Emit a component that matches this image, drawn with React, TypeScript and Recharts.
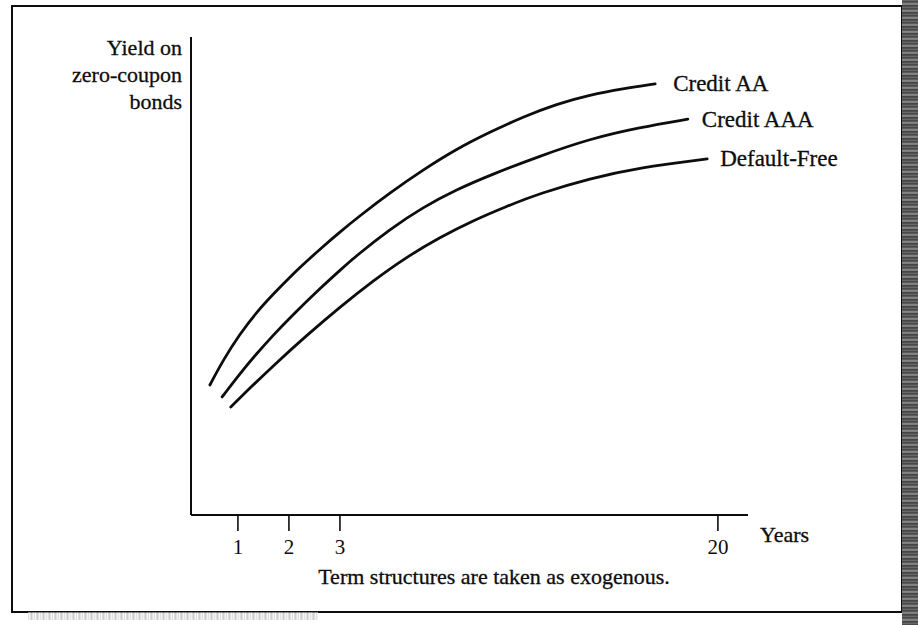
import { LineChart, Line, XAxis, YAxis } from 'recharts';

// Schematic maturity axis: 1, 2, 3 years evenly spaced, then a jump to 20.
const TICK_POS = [1, 2, 3, 10.41];
const TICK_LABELS = ['1', '2', '3', '20'];

const AA_POS = [0.45, 0.71, 1.04, 1.37, 1.69, 2.02, 2.35, 2.67, 3.0, 3.33, 3.98, 4.63, 5.29, 5.94, 6.59, 7.25, 7.9, 8.55, 9.18];
const AA_YIELD = [2.72, 3.24, 3.79, 4.25, 4.62, 4.98, 5.31, 5.62, 5.92, 6.21, 6.74, 7.22, 7.66, 8.01, 8.33, 8.6, 8.79, 8.92, 9.02];

const AAA_POS = [0.69, 1.04, 1.37, 1.69, 2.02, 2.67, 3.0, 3.33, 3.98, 4.63, 5.29, 5.94, 6.92, 7.9, 8.88, 9.82];
const AAA_YIELD = [2.47, 2.96, 3.38, 3.76, 4.13, 4.8, 5.12, 5.43, 5.98, 6.44, 6.81, 7.11, 7.51, 7.87, 8.11, 8.28];

const DF_POS = [0.86, 1.24, 1.69, 2.35, 3.0, 3.65, 4.31, 4.96, 5.61, 6.27, 6.92, 7.9, 8.88, 10.2];
const DF_YIELD = [2.26, 2.66, 3.12, 3.76, 4.35, 4.9, 5.4, 5.81, 6.16, 6.46, 6.73, 7.04, 7.27, 7.45];

const SERIES_NAMES = ['Credit AA', 'Credit AAA', 'Default-Free'];

const INK = '#0d0d0d';
const FONT = '"Liberation Serif", "Times New Roman", serif';

const zip = (xs: number[], ys: number[]) => xs.map((pos, i) => ({ pos, yield: ys[i] }));

const series = [
  { name: SERIES_NAMES[0], data: zip(AA_POS, AA_YIELD), labelDx: 18 },
  { name: SERIES_NAMES[1], data: zip(AAA_POS, AAA_YIELD), labelDx: 14 },
  { name: SERIES_NAMES[2], data: zip(DF_POS, DF_YIELD), labelDx: 13 },
];

function endLabel(name: string, count: number, dx: number) {
  return (props: any) => {
    if (props.index !== count - 1) return null;
    return (
      <text
        key={name}
        x={props.x + dx}
        y={props.y}
        dominantBaseline="central"
        fontSize={23}
        fontFamily={FONT}
        fill={INK}
        stroke={INK}
        strokeWidth={0.3}
      >
        {name}
      </text>
    );
  };
}

const textStyle = {
  fontFamily: FONT,
  fontSize: 22,
  color: INK,
  WebkitTextStroke: '0.3px #0d0d0d',
};

export default function App() {
  return (
    <div style={{ position: 'absolute', left: 0, top: 0, width: 918, height: 625, background: '#fff', overflow: 'hidden' }}>
      {/* page frame */}
      <div style={{ position: 'absolute', left: 11, top: 5, width: 888, height: 604, border: `2px solid ${INK}` }} />
      {/* scanned page edge */}
      <div
        style={{
          position: 'absolute',
          left: 902,
          top: 0,
          width: 16,
          height: 625,
          background:
            'repeating-linear-gradient(0deg, #3a3a3a 0px, #777 2px, #2a2a2a 3px, #999 5px, #444 7px), #555',
        }}
      />
      <div
        style={{
          position: 'absolute',
          left: 28,
          top: 612,
          width: 290,
          height: 8,
          background: 'repeating-linear-gradient(90deg, #bbb 0px, #fff 2px, #999 3px, #fff 6px)',
          opacity: 0.6,
        }}
      />

      <LineChart
        width={918}
        height={625}
        margin={{ top: 37, right: 170, bottom: 60, left: 141 }}
        style={{ position: 'absolute', left: 0, top: 0 }}
      >
        <XAxis
          type="number"
          dataKey="pos"
          domain={[0.08, 11.0]}
          ticks={TICK_POS}
          allowDataOverflow
          height={50}
          tickSize={16}
          tickMargin={8}
          tickFormatter={(v: number) => TICK_LABELS[TICK_POS.indexOf(v)] ?? ''}
          axisLine={{ stroke: INK, strokeWidth: 2 }}
          tickLine={{ stroke: INK, strokeWidth: 1.6 }}
          tick={{ fill: INK, fontSize: 21, fontFamily: FONT }}
        />
        <YAxis
          type="number"
          dataKey="yield"
          domain={[0, 10]}
          width={50}
          tick={false}
          tickLine={false}
          axisLine={{ stroke: INK, strokeWidth: 2 }}
        />
        {series.map((s) => (
          <Line
            key={s.name}
            data={s.data}
            dataKey="yield"
            name={s.name}
            type="basis"
            stroke={INK}
            strokeWidth={2.8}
            strokeLinecap="round"
            dot={false}
            activeDot={false}
            isAnimationActive={false}
            label={endLabel(s.name, s.data.length, s.labelDx)}
          />
        ))}
      </LineChart>

      <div style={{ ...textStyle, position: 'absolute', right: 736, top: 34, textAlign: 'right', lineHeight: '27px' }}>
        Yield on
        <br />
        zero-coupon
        <br />
        bonds
      </div>
      <div style={{ ...textStyle, position: 'absolute', left: 760, top: 522, lineHeight: '26px' }}>Years</div>
      <div
        style={{
          ...textStyle,
          position: 'absolute',
          left: 194,
          width: 600,
          top: 563,
          textAlign: 'center',
          lineHeight: '28px',
        }}
      >
        Term structures are taken as exogenous.
      </div>
    </div>
  );
}
